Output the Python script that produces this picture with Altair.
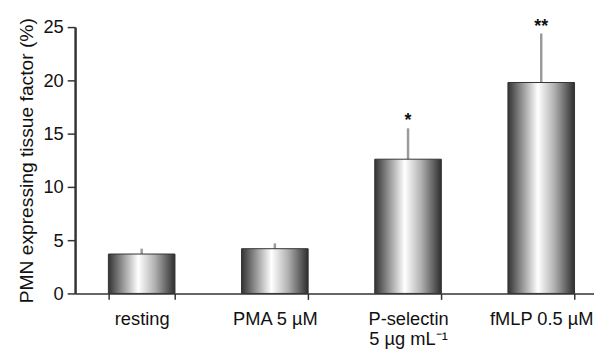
import altair as alt
import pandas as pd

categories = ["resting", "PMA 5 µM", "P-selectin\n5 µg mL⁻¹", "fMLP 0.5 µM"]
means = [3.7, 4.2, 12.6, 19.8]
err_top = [4.2, 4.7, 15.5, 24.4]
stars = ["", "", "*", "**"]

df = pd.DataFrame({"cat": categories, "mean": means, "err": err_top, "star": stars})

FONT = "Liberation Sans"

x = alt.X("cat:N", sort=categories,
          scale=alt.Scale(range=[0, 540], paddingInner=0.5, paddingOuter=0.25),
          axis=alt.Axis(title=None, labelAngle=0, labelFont=FONT, labelFontSize=18.5,
                        labelColor="#111", labelExpr="split(datum.label, '\\n')",
                        labelLineHeight=21, labelPadding=10, tickBand="extent",
                        tickSize=6, tickColor="#333", tickWidth=1.5,
                        domainColor="#333", domainWidth=1.5, grid=False))

y_scale = alt.Scale(domain=[0, 25])
y_axis = alt.Axis(title="PMN expressing tissue factor (%)", values=[0, 5, 10, 15, 20, 25],
                  titleFont=FONT, titleFontSize=19.5, titleFontWeight="normal",
                  titleColor="#111", titlePadding=7,
                  labelFont=FONT, labelFontSize=18.5, labelColor="#111", labelPadding=4,
                  tickSize=8, tickColor="#333", tickWidth=1.5,
                  domainColor="#333", domainWidth=2.5, grid=False)

grad = alt.Gradient(gradient="linear", x1=0, x2=1, y1=0, y2=0,
                    stops=[alt.GradientStop(offset=0, color="#333333"),
                           alt.GradientStop(offset=0.18, color="#858585"),
                           alt.GradientStop(offset=0.45, color="#ffffff"),
                           alt.GradientStop(offset=0.7, color="#b0b0b0"),
                           alt.GradientStop(offset=1, color="#2e2e2e")])

err = alt.Chart(df).mark_rule(color="#9a9a9a", strokeWidth=2.5).encode(
    x=x, y=alt.Y("mean:Q", scale=y_scale, axis=y_axis), y2="err:Q")

bars = alt.Chart(df).mark_bar(color=grad, stroke="#333", strokeWidth=1).encode(
    x=x, y=alt.Y("mean:Q", scale=y_scale, axis=y_axis))

txt = alt.Chart(df).mark_text(font=FONT, fontSize=18, fontWeight="bold", color="#111",
                              baseline="middle", dy=-7).encode(
    x=x, y=alt.Y("err:Q", scale=y_scale), text="star:N")

chart = alt.layer(err, bars, txt).properties(
    width=526, height=270,
    padding={"left": 68, "top": 17, "right": 0, "bottom": 56},
    autosize=alt.AutoSizeParams(type="none"),
).configure_view(stroke=None)

chart.save("out.html", embed_options={"renderer": "svg", "actions": False})
